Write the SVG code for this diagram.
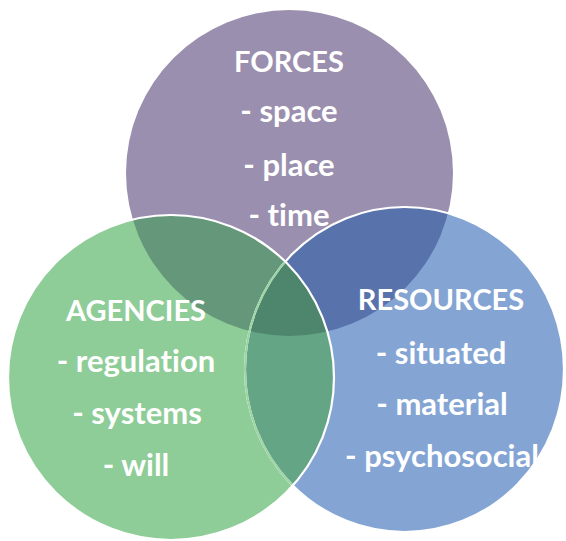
<svg xmlns="http://www.w3.org/2000/svg" width="566" height="541" viewBox="0 0 566 541">
  <defs>
    <style>
      .lbl { font-family: Lato, "Liberation Sans", Arial, sans-serif; font-weight: 700; font-size: 31px; fill: #ffffff; text-anchor: middle; font-variant-ligatures: none; }
      .head { font-size: 29px; }
      .ring { fill: none; stroke: #ffffff; stroke-width: 2.2; }
    </style>
    <ellipse id="cForces" cx="289.5" cy="173" rx="163.5" ry="163"/>
    <ellipse id="cAgencies" cx="171" cy="377.5" rx="163" ry="162.5"/>
    <ellipse id="cResources" cx="404.5" cy="369.5" rx="159.5" ry="162.5"/>
    <clipPath id="inForces"><use href="#cForces"/></clipPath>
    <clipPath id="inAgencies"><use href="#cAgencies"/></clipPath>
    <clipPath id="inResources"><use href="#cResources"/></clipPath>
  </defs>

  <rect width="566" height="541" fill="#ffffff"/>

  <!-- circle bodies -->
  <g id="forces-circle"><use href="#cForces" fill="#9a8fae"/></g>
  <g id="resources-circle"><use href="#cResources" fill="#84a5d4"/></g>
  <g id="agencies-circle"><use href="#cAgencies" fill="#8fcd98"/></g>

  <!-- overlaps -->
  <g id="overlaps">
    <use href="#cResources" fill="#5872ab" clip-path="url(#inForces)"/>
    <use href="#cAgencies" fill="#65977a" clip-path="url(#inForces)"/>
    <use href="#cAgencies" fill="#63a585" clip-path="url(#inResources)"/>
    <g clip-path="url(#inForces)">
      <use href="#cAgencies" fill="#4d866d" clip-path="url(#inResources)"/>
    </g>
  </g>

  <!-- outlines -->
  <g id="outlines">
    <use href="#cResources" class="ring"/>
    <use href="#cResources" fill="none" stroke="#9bd4a2" stroke-width="2" clip-path="url(#inAgencies)"/>
    <use href="#cAgencies" class="ring"/>
  </g>

  <g id="forces">
    <text class="lbl head" x="289" y="72">FORCES</text>
    <text class="lbl" x="289" y="122">- space</text>
    <text class="lbl" x="289" y="176">- place</text>
    <text class="lbl" x="289" y="226">- time</text>
  </g>

  <g id="agencies">
    <text class="lbl head" x="136" y="321">AGENCIES</text>
    <text class="lbl" x="136" y="372">- regulation</text>
    <text class="lbl" x="137" y="424">- systems</text>
    <text class="lbl" x="136" y="476">- will</text>
  </g>

  <g id="resources">
    <text class="lbl head" x="441" y="310">RESOURCES</text>
    <text class="lbl" x="441" y="364">- situated</text>
    <text class="lbl" x="442" y="415">- material</text>
    <text class="lbl" x="442" y="467">- psychosocial</text>
  </g>
</svg>
